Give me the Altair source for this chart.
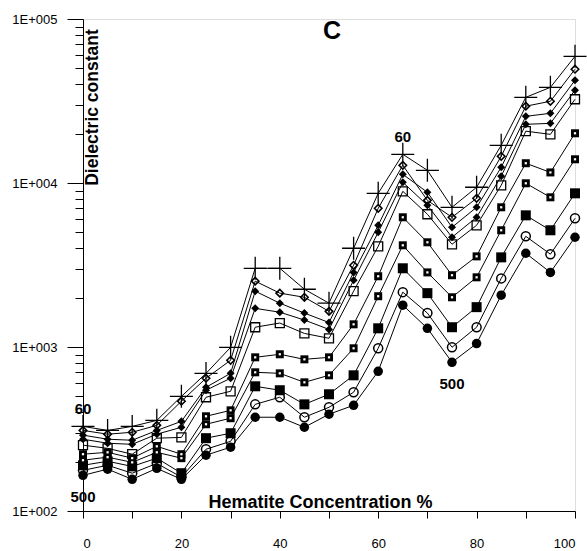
import altair as alt
import pandas as pd

FONT = "Liberation Sans"

# Hematite concentration (%) on the x axis
conc = list(range(0, 101, 5))

# Dielectric constant for each measuring frequency, top (60) to bottom (500)
series_names = ["60", "s2", "s3", "s4", "s5", "s6", "s7", "s8", "s9", "500"]

s_60 = [328, 310, 328, 357, 500, 690, 995, 3020, 3020, 2250, 1850, 4000, 8650, 14960, 11950, 7110, 9420, 16980, 33300, 38300, 59200]
s_2 = [310, 294, 302, 333, 467, 645, 830, 2520, 2130, 2010, 1650, 3150, 7010, 12820, 7840, 6180, 8070, 14550, 29400, 31500, 49400]
s_3 = [290, 274, 270, 310, 352, 568, 691, 2190, 1850, 1610, 1410, 2850, 5520, 11300, 8780, 5370, 7110, 12460, 25500, 26600, 42300]
s_4 = [274, 259, 255, 294, 324, 545, 645, 1720, 1630, 1460, 1280, 2550, 5000, 10100, 7310, 4670, 6180, 10990, 22800, 23100, 36800]
s_5 = [252, 241, 222, 278, 281, 494, 537, 1320, 1400, 1210, 1130, 2190, 4110, 8900, 6450, 4230, 5520, 9680, 20700, 19800, 32400]
s_6 = [222, 228, 210, 248, 222, 378, 411, 865, 903, 841, 865, 1375, 2700, 6180, 4350, 2740, 3570, 7110, 13200, 11600, 20100]
s_7 = [204, 213, 198, 228, 210, 338, 368, 701, 691, 609, 672, 982, 2040, 4170, 2850, 2010, 2660, 5150, 9960, 8180, 13950]
s_8 = [190, 201, 187, 210, 170, 278, 298, 576, 545, 447, 515, 672, 1300, 3020, 2130, 1320, 1750, 3520, 6350, 5150, 8650]
s_9 = [177, 190, 170, 195, 161, 238, 266, 447, 494, 373, 429, 530, 982, 2160, 1610, 996, 1320, 2620, 4730, 3680, 6090]
s_500 = [165, 180, 156, 182, 156, 219, 245, 373, 373, 324, 389, 441, 711, 1800, 1300, 807, 1050, 2070, 3730, 2850, 4670]

series_values = [s_60, s_2, s_3, s_4, s_5, s_6, s_7, s_8, s_9, s_500]

# Symbol styling per series: (shape, size, filled, stroke width)
plus_path = "M-1,0L1,0M0,-1L0,1"
styles = [
    (plus_path, 529, False, 1.3),
    ("diamond", 56, False, 1.6),
    ("diamond", 64, True, 1),
    ("diamond", 64, True, 1),
    ("square", 81, False, 1.3),
    ("square", 64, True, 1),
    ("square", 64, True, 1),
    ("square", 100, True, 1),
    ("circle", 81, False, 1.5),
    ("circle", 90, True, 1),
]

y_major = [100, 1000, 10000, 100000]
y_ticks = [m * k for m in y_major[:-1] for k in range(1, 10)] + [100000]
x_ticks = list(range(0, 101, 10))

rows = []
for name, vals in zip(series_names, series_values):
    for c, v in zip(conc, vals):
        rows.append({"conc": c, "value": v, "series": name})
df = pd.DataFrame(rows)

lab_top = pd.DataFrame({"conc": [0, 65], "value": [s_60[0], s_60[13]], "label": ["60", "60"]})
lab_bot = pd.DataFrame({"conc": [0, 75], "value": [s_500[0], s_500[15]], "label": ["500", "500"]})

major_test = "indexof([100,1000,10000,100000], datum.value) >= 0"

x_enc = alt.X(
    "conc:Q",
    scale=alt.Scale(domain=[0, 100], nice=False),
    axis=alt.Axis(
        values=x_ticks,
        labelExpr="datum.value % 20 == 0 ? datum.label : ''",
        tickSize=7, labelPadding=19, labelFont=FONT, labelFontSize=13,
        labelColor="black", domainColor="black", tickColor="black", grid=False,
        title="Hematite Concentration %", titleFont=FONT, titleFontSize=18,
        titleFontWeight="bold", titleColor="black", titleX=237, titleY=-4,
        titleBaseline="alphabetic", titleAlign="center",
    ),
)
y_enc = alt.Y(
    "value:Q",
    scale=alt.Scale(type="log", domain=[100, 100000], nice=False),
    axis=alt.Axis(
        values=y_ticks,
        labelExpr=major_test + " ? '1E+00' + format(log(datum.value) / LN10, '.0f') : ''",
        tickSize={"condition": {"test": major_test, "value": 16}, "value": 8},
        labelPadding=10, labelFont=FONT, labelFontSize=13, labelColor="black",
        domainColor="black", tickColor="black", grid=False,
        title="Dielectric constant", titleFont=FONT, titleFontSize=17.5,
        titleFontWeight="bold", titleColor="black", titleAngle=270,
        titleX=14, titleY=88, titleAlign="center", titleBaseline="alphabetic",
    ),
)

lines = alt.Chart(df).mark_line(color="black", strokeWidth=1).encode(
    x=x_enc, y=y_enc, detail="series:N"
)

point_layers = []
for name, (shape, size, filled, sw) in zip(series_names, styles):
    point_layers.append(
        alt.Chart(df)
        .transform_filter(alt.datum.series == name)
        .mark_point(shape=shape, size=size, filled=filled, color="black",
                    strokeWidth=sw, opacity=1)
        .encode(x="conc:Q", y="value:Q")
    )

dots = alt.Chart(df).transform_filter(
    alt.FieldOneOfPredicate(field="series", oneOf=["s6", "s7"])
).mark_point(shape="square", size=5, filled=True, color="white", opacity=1).encode(
    x="conc:Q", y="value:Q"
)

text_top = alt.Chart(lab_top).mark_text(
    font=FONT, fontSize=15, fontWeight="bold", color="black", dy=-17
).encode(x="conc:Q", y="value:Q", text="label:N")

text_bot = alt.Chart(lab_bot).mark_text(
    font=FONT, fontSize=15, fontWeight="bold", color="black", dy=22
).encode(x="conc:Q", y="value:Q", text="label:N")

chart = alt.layer(lines, *point_layers, dots, text_top, text_bot).properties(
    width=492,
    height=492,
    padding={"left": 83, "top": 19, "right": 12, "bottom": 40},
    autosize=alt.AutoSizeParams(type="none"),
    title=alt.TitleParams(
        "C", font=FONT, fontSize=25, fontWeight="bold", color="black",
        anchor="middle", frame="group", baseline="alphabetic", dx=3, dy=51, offset=0,
    ),
).configure_view(stroke=None).configure(background="white")

chart.save("out.html", embed_options={"renderer": "svg", "actions": False})
